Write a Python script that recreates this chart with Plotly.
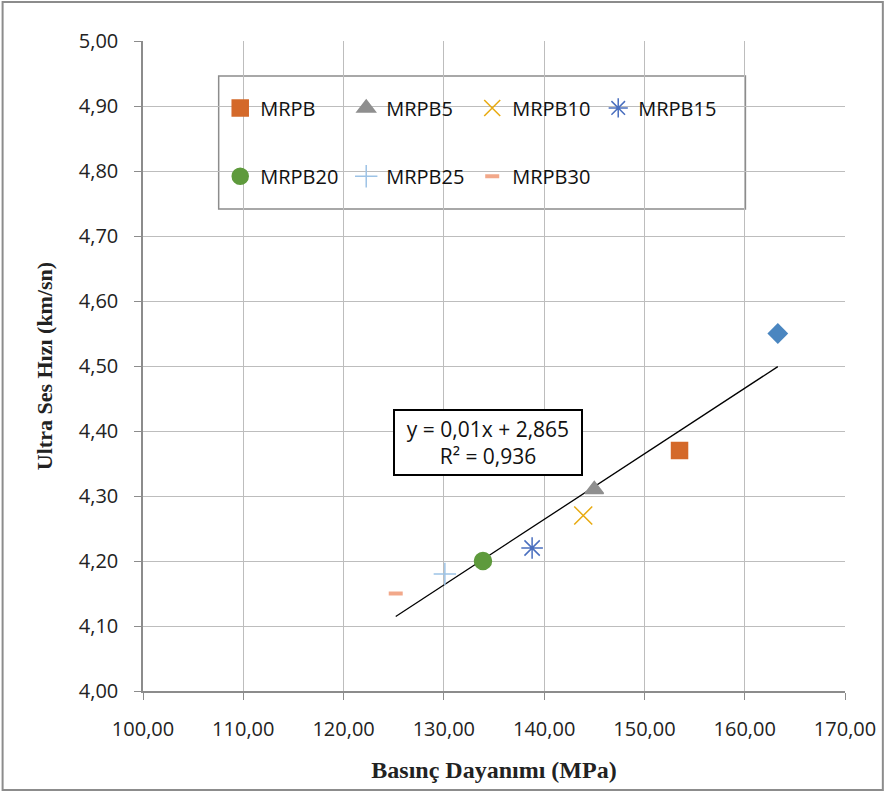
import numpy as np
import plotly.graph_objects as go

names = ["MRPB", "MRPB5", "MRPB10", "MRPB15", "MRPB20", "MRPB25", "MRPB30"]
x_vals = [153.5, 145.0, 143.9, 138.8, 133.9, 130.1, 125.2]
y_vals = [4.37, 4.31, 4.27, 4.22, 4.20, 4.18, 4.15]
ref_x = [163.3]
ref_y = [4.55]
symbols = ["square", "triangle-up", "x-thin-open", "asterisk-open", "circle", "cross-thin-open", "line-ew-open"]
colors = ["#D4692A", "#8F8F8F", "#E8AA10", "#4A6FBF", "#5E9A3C", "#9DC3E6", "#F2A88A"]
sizes = [16, 16, 18, 18, 17, 16, 10]
x_ticks = [100, 110, 120, 130, 140, 150, 160, 170]
y_ticks = [4.0, 4.1, 4.2, 4.3, 4.4, 4.5, 4.6, 4.7, 4.8, 4.9, 5.0]

fig = go.Figure()
all_x = x_vals + ref_x
all_y = y_vals + ref_y
m, b = np.polyfit(all_x, all_y, 1)
lx = np.array([min(all_x), max(all_x)])
fig.add_trace(go.Scatter(x=lx, y=m * lx + b, mode="lines", line=dict(color="black", width=1.3),
                         showlegend=False, hoverinfo="skip"))
fig.add_trace(go.Scatter(x=ref_x, y=ref_y, mode="markers",
                         marker=dict(symbol="diamond", size=16, color="#4A86C0"), showlegend=False))
for i, (n, xv, yv) in enumerate(zip(names, x_vals, y_vals)):
    lw = 4 if symbols[i] == "line-ew-open" else 1.5
    fig.add_trace(go.Scatter(x=[xv], y=[yv], mode="markers", name=n,
                             legend="legend" if i < 4 else "legend2",
                             marker=dict(symbol=symbols[i], size=sizes[i], color=colors[i],
                                         line=dict(color=colors[i], width=lw))))

tick_font = dict(family="Open Sans", size=20, color="#222")
title_font_x = dict(family="Liberation Serif, Times New Roman", size=24, color="#222")
title_font_y = dict(family="Liberation Serif, Times New Roman", size=22, color="#222")
fig.update_xaxes(range=[100, 170], tickvals=x_ticks, ticktext=[f"{v:.2f}".replace(".", ",") for v in x_ticks],
                 showgrid=True, gridcolor="#BDBDBD", gridwidth=1, showline=True, linecolor="#8C8C8C",
                 linewidth=1.5, ticks="outside", ticklen=7, tickcolor="#8C8C8C", tickfont=tick_font,
                 ticklabelstandoff=12,
                 zeroline=False, title=dict(text="<b>Basınç Dayanımı (MPa)</b>", font=title_font_x, standoff=20))
fig.update_yaxes(range=[4.0, 5.0], tickvals=y_ticks, ticktext=[f"{v:.2f}".replace(".", ",") for v in y_ticks],
                 showgrid=True, gridcolor="#BDBDBD", gridwidth=1, showline=True, linecolor="#8C8C8C",
                 linewidth=1.5, ticks="outside", ticklen=7, tickcolor="#8C8C8C", tickfont=tick_font,
                 ticklabelstandoff=12,
                 zeroline=False, title=dict(text="<b>Ultra Ses Hızı (km/sn)</b>", font=title_font_y, standoff=20))

leg_font = dict(family="Open Sans", size=20, color="#111")
common = dict(orientation="h", bgcolor="rgba(0,0,0,0)", font=leg_font, entrywidth=81,
              entrywidthmode="pixels", itemwidth=30, xanchor="left", yanchor="middle")
fig.update_layout(
    width=888, height=792, margin=dict(l=143, r=40, t=41, b=101),
    plot_bgcolor="white", paper_bgcolor="white",
    legend=dict(x=0.11, y=0.897, **common),
    legend2=dict(x=0.11, y=0.792, **common),
    shapes=[
        dict(type="rect", xref="paper", yref="paper", x0=(219 - 143) / 705, x1=(748 - 143) / 705,
             y0=(691 - 209) / 650, y1=(691 - 76) / 650, line=dict(color="#8C8C8C", width=1.5),
             fillcolor="white", layer="below"),
        dict(type="rect", xref="paper", yref="paper", x0=-141 / 705, x1=(886 - 143) / 705,
             y0=(691 - 790) / 650, y1=(691 - 2) / 650, line=dict(color="#8C8C8C", width=2)),
    ],
    annotations=[dict(x=134.4, y=4.382, xref="x", yref="y", showarrow=False,
                      text="y = 0,01x + 2,865<br>R² = 0,936",
                      font=dict(family="Open Sans", size=21, color="#111"),
                      bordercolor="black", borderwidth=2, bgcolor="white", borderpad=4, width=178)],
)
fig.write_html("out.html")
